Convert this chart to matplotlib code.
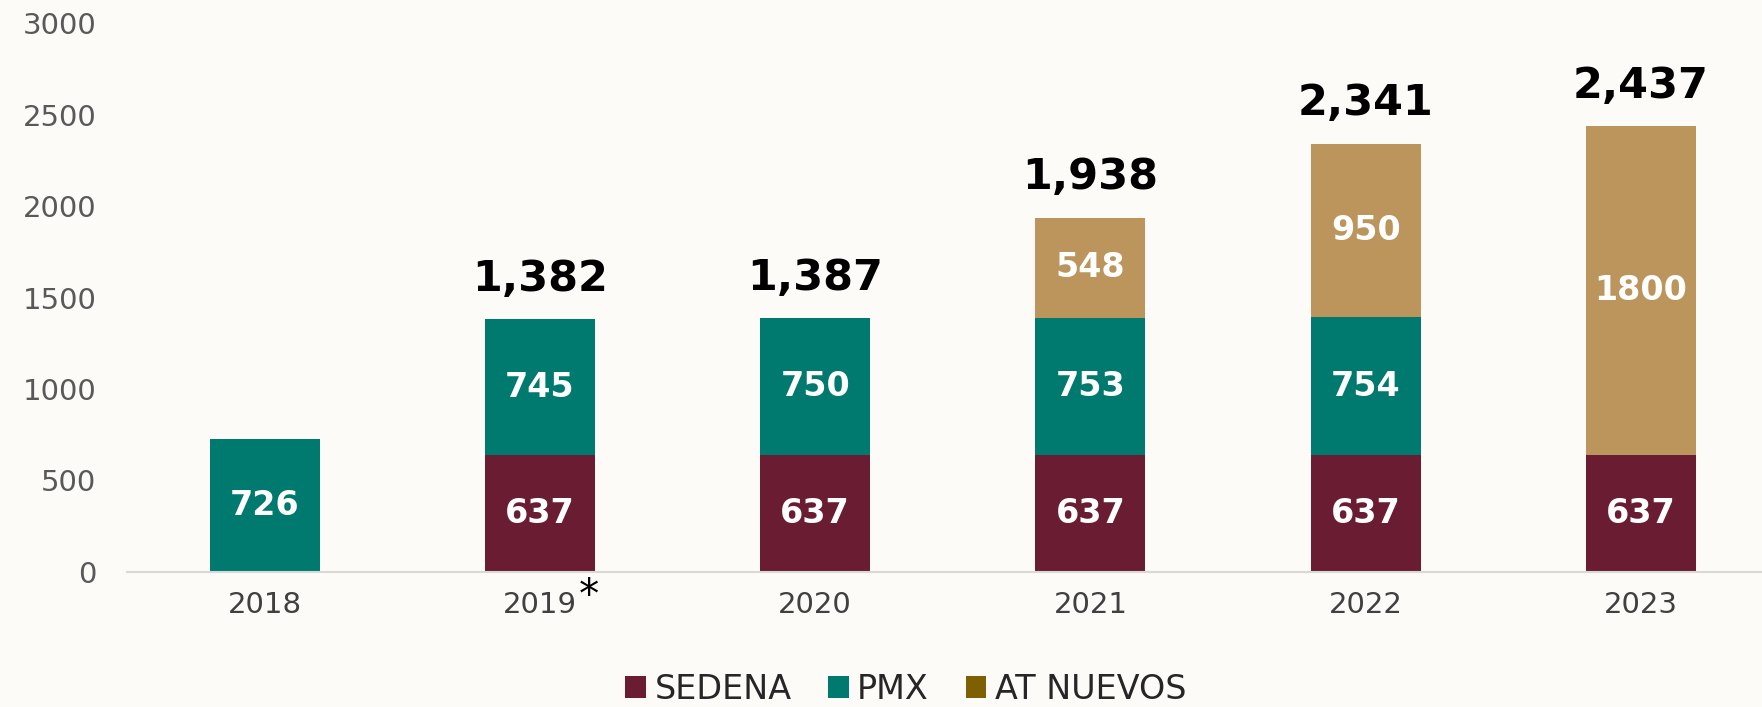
import numpy as np
import matplotlib.pyplot as plt
from matplotlib.patches import Patch

years = ["2018", "2019", "2020", "2021", "2022", "2023"]
sedena = [0, 637, 637, 637, 637, 637]
pmx = [726, 745, 750, 753, 754, 0]
at_nuevos = [0, 0, 0, 548, 950, 1800]
series_names = ["SEDENA", "PMX", "AT NUEVOS"]

bar_colors = ["#691C32", "#00796E", "#BC955C"]
legend_colors = ["#691C32", "#00796E", "#7F6000"]

plt.rcParams["font.family"] = ["DejaVu Sans"]

fig = plt.figure(figsize=(17.62, 7.07), dpi=100)
fig.patch.set_facecolor("#FDFBF8")
ax = fig.add_axes([0.0721, 0.1914, 0.9279, 0.7754])
ax.set_facecolor("none")

x = np.arange(len(years))
width = 0.40
bottom = np.zeros(len(years))
for vals, color in zip([sedena, pmx, at_nuevos], bar_colors):
    vals = np.array(vals, dtype=float)
    ax.bar(x, vals, width, bottom=bottom, color=color, edgecolor="none", zorder=2)
    for xi, v, b in zip(x, vals, bottom):
        if v > 0:
            ax.text(xi, b + v / 2, f"{int(v)}", ha="center", va="center",
                    color="white", fontsize=24, fontweight="bold", zorder=3)
    bottom += vals

totals = bottom
for xi, t in zip(x[1:], totals[1:]):
    ax.annotate(f"{int(t):,}", (xi, t), xytext=(0, 14), textcoords="offset points",
                ha="center", va="bottom", fontsize=31, fontweight="bold", color="black")

ax.set_xlim(-0.5, 5.44)
ax.set_ylim(0, 3000)
ax.set_yticks(np.arange(0, 3001, 500))
ax.tick_params(axis="y", length=0, labelsize=21, labelcolor="#595959", pad=22)
ax.tick_params(axis="x", length=0, labelsize=21, labelcolor="#404040", pad=14)
ax.set_xticks(x)
ax.set_xticklabels(years)

for s in ["top", "right", "left"]:
    ax.spines[s].set_visible(False)
ax.spines["bottom"].set_color("#D9D9D9")
ax.spines["bottom"].set_linewidth(1.5)

# asterisk on 2019
ax.annotate("*", (1, 0), xytext=(35, -18), textcoords="offset points",
            ha="center", va="center", fontsize=29, color="black",
            annotation_clip=False)

handles = [Patch(facecolor=c, edgecolor="none") for c in legend_colors]
fig.legend(handles, series_names, loc="center", bbox_to_anchor=(0.514, 0.025),
           ncol=3, frameon=False, fontsize=24, handlelength=0.62, handleheight=0.62,
           handletextpad=0.25, columnspacing=1.1, labelcolor="#262626",
           borderpad=0)

fig.savefig("out.png", dpi=100, facecolor=fig.get_facecolor())
